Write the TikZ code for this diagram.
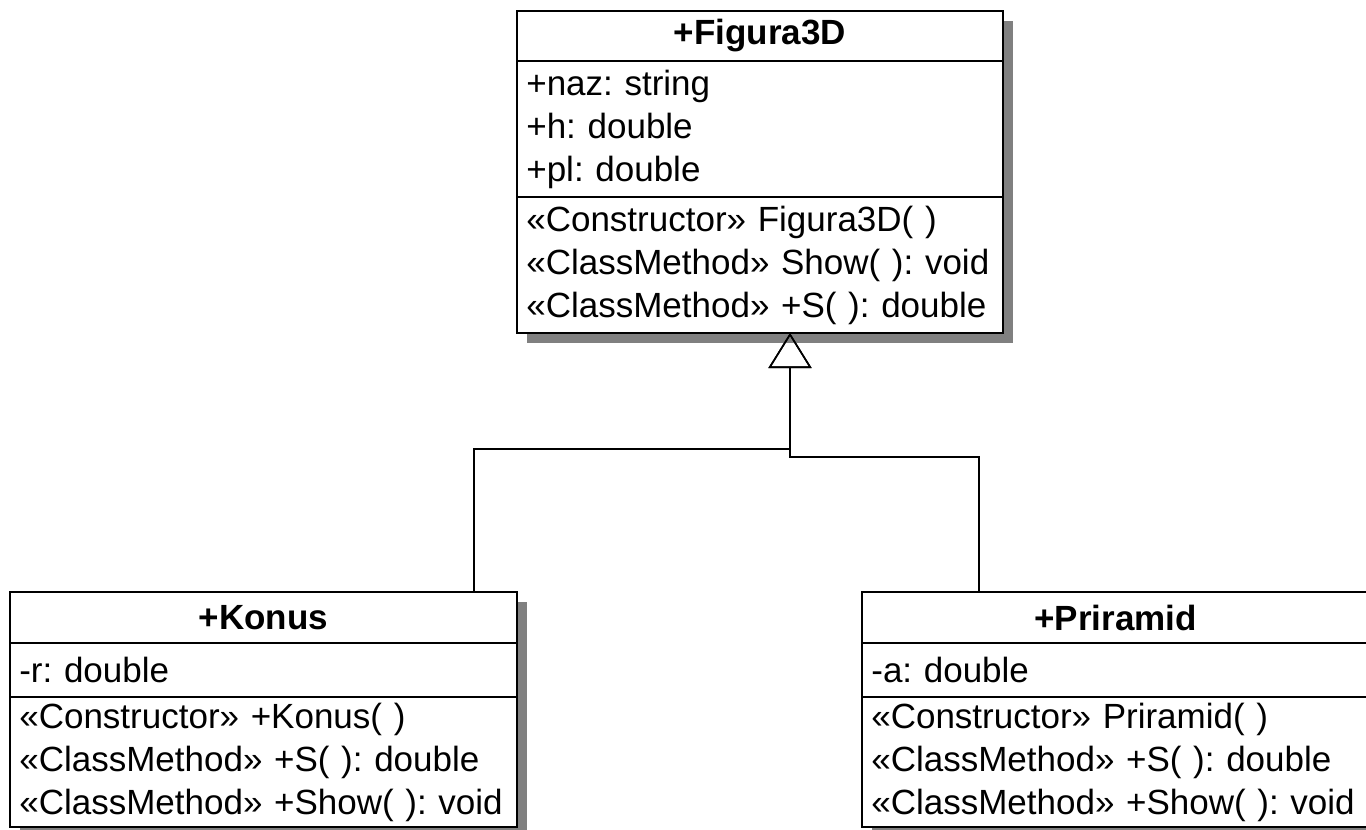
\documentclass[tikz,border=0pt]{standalone}
\usepackage{fontspec}
\setmainfont{Liberation Sans}
\usepackage{tikz}
\usetikzlibrary{arrows.meta,calc,positioning,backgrounds}
\definecolor{umlshadow}{rgb}{0.50,0.50,0.50}
\tikzset{
  clshead/.style={
    draw=black,
    fill=white,
    line width=1.2pt,
    outer sep=0pt,
    inner sep=0pt,
    align=center,
    font=\fontsize{26.25pt}{32.25pt}\selectfont\bfseries
  },
  clsbody/.style={
    draw=black,
    fill=white,
    line width=1.2pt,
    outer sep=0pt,
    inner xsep=7pt,
    inner ysep=0pt,
    align=left,
    font=\fontsize{26.25pt}{32.25pt}\selectfont
  },
  inherit/.style={
    -{Triangle[open,length=26.25pt,width=32.25pt]},
    line width=1.2pt,
    black
  }
}

\begin{document}
\frenchspacing
\hyphenpenalty=10000
\begin{tikzpicture}[x=0.75pt,y=0.75pt]
\useasboundingbox (0,0) rectangle (1366,-829);
% Figura3D
\node[clshead, minimum width=364.5pt, minimum height=37.5pt] (figH) at (760,-36) {+Figura3D};
\node[clsbody, text width=350.5pt, minimum height=102pt, below=0pt of figH] (figA) {+naz: string\\+h: double\\+pl: double};
\node[clsbody, text width=350.5pt, minimum height=102pt, below=0pt of figA] (figM) {«Constructor» Figura3D( )\\«ClassMethod» Show( ): void\\«ClassMethod» +S( ): double};
% Konus
\node[clshead, minimum width=380.25pt, minimum height=38.25pt] (konH) at (263.5,-617.5) {+Konus};
\node[clsbody, text width=366.25pt, minimum height=40.5pt, below=0pt of konH] (konA) {-r: double};
\node[clsbody, text width=366.25pt, minimum height=97.5pt, below=0pt of konA] (konM) {«Constructor» +Konus( )\\«ClassMethod» +S( ): double\\«ClassMethod» +Show( ): void};
% Priramid
\node[clshead, minimum width=380.25pt, minimum height=38.25pt] (priH) at (1115.5,-617.5) {+Priramid};
\node[clsbody, text width=366.25pt, minimum height=40.5pt, below=0pt of priH] (priA) {-a: double};
\node[clsbody, text width=366.25pt, minimum height=97.5pt, below=0pt of priA] (priM) {«Constructor» Priramid( )\\«ClassMethod» +S( ): double\\«ClassMethod» +Show( ): void};
% shadows
\begin{pgfonlayer}{background}
\fill[umlshadow] ($(figH.north west)+(10,-10)$) rectangle ($(figM.south east)+(10,-10)$);
\fill[umlshadow] ($(konH.north west)+(10,-10)$) rectangle ($(konM.south east)+(10,-10)$);
\fill[umlshadow] ($(priH.north west)+(10,-10)$) rectangle ($(priM.south east)+(10,-10)$);
\end{pgfonlayer}
% generalisation
\coordinate (tip) at ($(figM.south)+(30,0)$);
\draw[inherit] ($(konH.north)+(210.5,0)$) |- ($(tip)+(0,-116)$) -- (tip);
\draw[inherit] ($(priH.north)+(-136.5,0)$) |- ($(tip)+(0,-124)$) -- (tip);
\end{tikzpicture}
\end{document}
